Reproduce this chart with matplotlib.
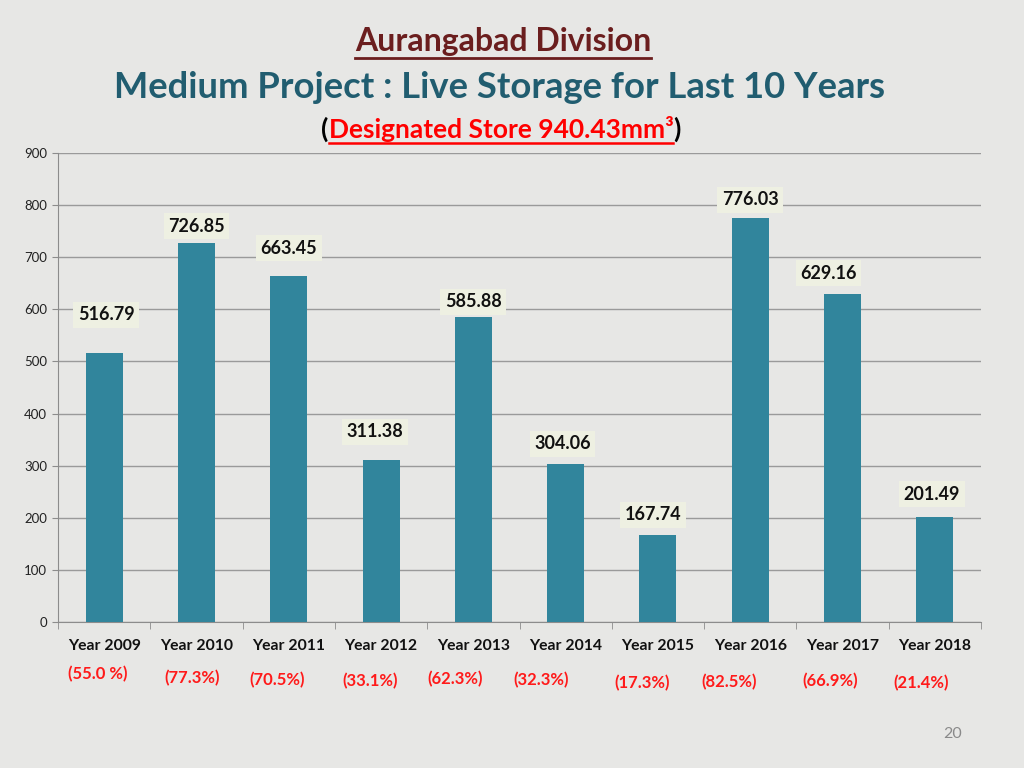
import matplotlib
matplotlib.use("Agg")
import matplotlib.pyplot as plt
from matplotlib.lines import Line2D
import matplotlib.transforms as mtransforms

years = ["Year 2009", "Year 2010", "Year 2011", "Year 2012", "Year 2013",
         "Year 2014", "Year 2015", "Year 2016", "Year 2017", "Year 2018"]
storage = [516.79, 726.85, 663.45, 311.38, 585.88, 304.06, 167.74, 776.03, 629.16, 201.49]
percent_labels = ["(55.0 %)", "(77.3%)", "(70.5%)", "(33.1%)", "(62.3%)",
                  "(32.3%)", "(17.3%)", "(82.5%)", "(66.9%)", "(21.4%)"]

# label layout offsets (pixels) relative to bar top centre
label_dx = [2, 0, 0, -6, 0, -3, -5, 0, -14, -3]
label_dy = [38, 17, 28, 28, 15, 20, 20, 18, 21, 23]
pct_dx = [-6, -4, -12, -11, -18, -25, -16, -21, -12, -14]
pct_y = [674, 678, 680, 681, 679, 680, 683, 682, 681, 683]

plt.rcParams['font.family'] = ['Lato', 'DejaVu Sans']

BG = "#e7e7e5"
fig = plt.figure(figsize=(10.24, 7.68), dpi=100, facecolor=BG)
ax = fig.add_axes([58/1024, 1-622/768, (981-58)/1024, (622-153)/768])
ax.set_facecolor("none")

x = list(range(len(years)))
ax.bar(x, storage, width=0.4, color="#31859c", zorder=3)
ax.set_xlim(-0.5, len(years) - 0.5)
ax.set_ylim(0, 900)
ax.set_yticks(range(0, 901, 100))
ax.yaxis.grid(True, color="#9a9a9a", linewidth=1.0, zorder=0)
ax.set_axisbelow(True)
for s in ["top", "right"]:
    ax.spines[s].set_visible(False)
ax.spines["left"].set_color("#8c8c8c")
ax.spines["bottom"].set_color("#8c8c8c")
ax.tick_params(axis="y", labelsize=9.5, colors="#8c8c8c", labelcolor="#222222", length=4, pad=4)
ax.set_xticks(x)
ax.set_xticklabels(years, fontsize=11.3, fontweight="bold", color="#111111")
ax.tick_params(axis="x", length=0, pad=12)
ax.set_xticks([i - 0.5 for i in range(len(years) + 1)], minor=True)
ax.tick_params(axis="x", which="minor", length=5, color="#8c8c8c")

for i, v in enumerate(storage):
    ax.annotate(f"{v:.2f}", xy=(i, v), xytext=(label_dx[i], label_dy[i]),
                textcoords="offset pixels", ha="center", va="center",
                fontsize=13, fontweight="bold", color="#111111", zorder=5,
                bbox=dict(boxstyle="square,pad=0.25", fc="#eef0e2", ec="none"))

trans = mtransforms.blended_transform_factory(ax.transData, fig.transFigure)
for i, p in enumerate(percent_labels):
    t = ax.text(i, 1 - pct_y[i]/768, p, transform=trans, ha="center", va="center",
                fontsize=12, fontweight="bold", color="#ff1a1a")
    t.set_transform(trans + mtransforms.ScaledTranslation(pct_dx[i]/100, 0, fig.dpi_scale_trans))

# titles
t1 = fig.text(503/1024, 1-42/768, "Aurangabad Division", ha="center", va="center",
              fontsize=23, fontweight="bold", color="#6b1e1e")
t2 = fig.text(500/1024, 1-88/768, "Medium Project : Live Storage for Last 10 Years",
              ha="center", va="center", fontsize=26.2, fontweight="bold", color="#215d70")
# third line: parens black, inner red underlined
tp1 = fig.text(0, 0, "(", fontsize=19, fontweight="bold", color="black")
tmid = fig.text(0, 0, "Designated Store 940.43mm³", fontsize=19, fontweight="bold", color="#ff0000")
tp2 = fig.text(0, 0, ")", fontsize=19, fontweight="bold", color="black")

fig.text(953/1024, 1-734/768, "20", ha="center", va="center", fontsize=11.5, color="#8a8a8a")

fig.canvas.draw()
r = fig.canvas.get_renderer()
W, H = fig.bbox.width, fig.bbox.height
b1 = tp1.get_window_extent(r); bm = tmid.get_window_extent(r); b2 = tp2.get_window_extent(r)
total = b1.width + bm.width + b2.width
xs = 501 - total / 2
yc = H - 129
for t, b in [(tp1, b1), (tmid, bm), (tp2, b2)]:
    t.set_position((xs / W, yc / H))
    t.set_va("center")
    xs += b.width
fig.canvas.draw()

def underline(t, color, lw=1.6, gap=2):
    b = t.get_window_extent(r)
    y = (b.y0 - gap) / H
    fig.add_artist(Line2D([b.x0 / W, b.x1 / W], [y, y], transform=fig.transFigure,
                          color=color, linewidth=lw))

underline(t1, "#6b1e1e", lw=2.0, gap=1)
underline(tmid, "#ff0000", lw=1.8, gap=1)

fig.savefig("out.png", dpi=100, facecolor=BG)
